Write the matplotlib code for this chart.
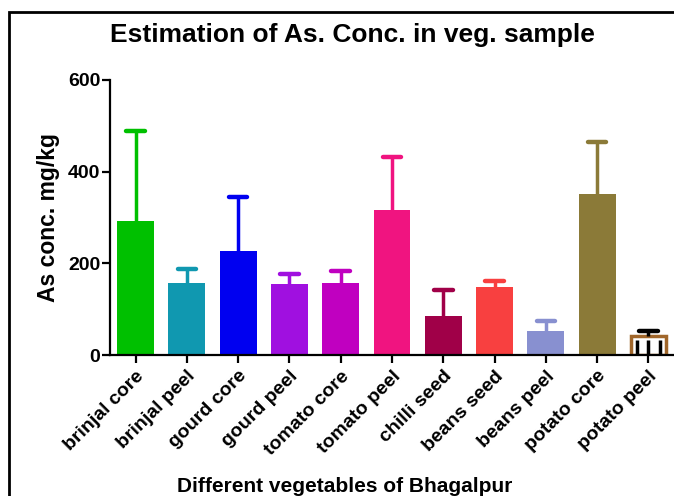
import matplotlib.pyplot as plt
import matplotlib.patches as mpatches
import numpy as np

# data
samples = ["brinjal core", "brinjal peel", "gourd core", "gourd peel", "tomato core",
           "tomato peel", "chilli seed", "beans seed", "beans peel", "potato core", "potato peel"]
mean_conc = [292, 158, 227, 154, 158, 316, 86, 148, 52, 351, 41]
err_top = [489, 188, 344, 177, 184, 431, 142, 161, 74, 465, 53]
bar_colors = ["#00C000", "#1098B0", "#0000F0", "#A010E0", "#C000C0", "#F01480",
              "#A00048", "#F84040", "#8890D0", "#8B7A38", "#A0662A"]
yticks = [0, 200, 400, 600]

plt.rcParams['font.family'] = ['Liberation Sans', 'DejaVu Sans']

fig = plt.figure(figsize=(6.74, 4.96), dpi=100)
ax = fig.add_axes([110 / 674, 1 - 355 / 496, 564 / 674, 275 / 496])

x = np.arange(len(samples))
last = len(samples) - 1

for i in range(len(samples)):
    if i == last:
        # last bar drawn as brown outline with black stripes inside
        ax.bar(x[i], mean_conc[i], width=0.68, facecolor="white", edgecolor=bar_colors[i],
               linewidth=2.5, zorder=2)
        ax.vlines(x[i] + np.array([-0.22, 0.0, 0.22]), 0, mean_conc[i] - 8, color="black",
                  linewidth=2.5, zorder=3)
        ecol = "black"
    else:
        ax.bar(x[i], mean_conc[i], width=0.72, color=bar_colors[i], zorder=2)
        ecol = bar_colors[i]
    # upper error bar only, with rounded cap
    ax.vlines(x[i], mean_conc[i], err_top[i], color=ecol, linewidth=2.5, zorder=4)
    ax.hlines(err_top[i], x[i] - 0.18, x[i] + 0.18, color=ecol, linewidth=3.2,
              capstyle="round", zorder=4)

ax.set_xlim(-0.5, len(samples) - 0.5)
ax.set_ylim(0, 600)
ax.set_yticks(yticks)
ax.set_yticklabels([str(v) for v in yticks], fontsize=14, fontweight="bold")
ax.set_xticks(x)
ax.set_xticklabels(samples, rotation=45, ha="right", rotation_mode="anchor",
                   fontsize=14, fontweight="bold")

for side in ["top", "right"]:
    ax.spines[side].set_visible(False)
for side in ["left", "bottom"]:
    ax.spines[side].set_linewidth(1.6)
ax.tick_params(axis="both", width=1.6, length=6)
ax.tick_params(axis="y", pad=1)
ax.tick_params(axis="x", pad=3)

ax.set_ylabel("As conc. mg/kg", fontsize=16.5, fontweight="bold", labelpad=6)
fig.text(0.512, 1 - 487 / 496, "Different vegetables of Bhagalpur", ha="center", va="center",
         fontsize=15, fontweight="bold")
fig.text(0.523, 1 - 35 / 496, "Estimation of As. Conc. in veg. sample", ha="center", va="center",
         fontsize=19, fontweight="bold")

# outer frame like the pasted figure border (left and top edges visible)
frame = mpatches.Rectangle((9 / 674, -0.05), 1.2, 1.05 - 12 / 496, transform=fig.transFigure,
                           fill=False, edgecolor="black", linewidth=2, clip_on=False)
fig.patches.append(frame)

fig.savefig("out.png", dpi=100)
